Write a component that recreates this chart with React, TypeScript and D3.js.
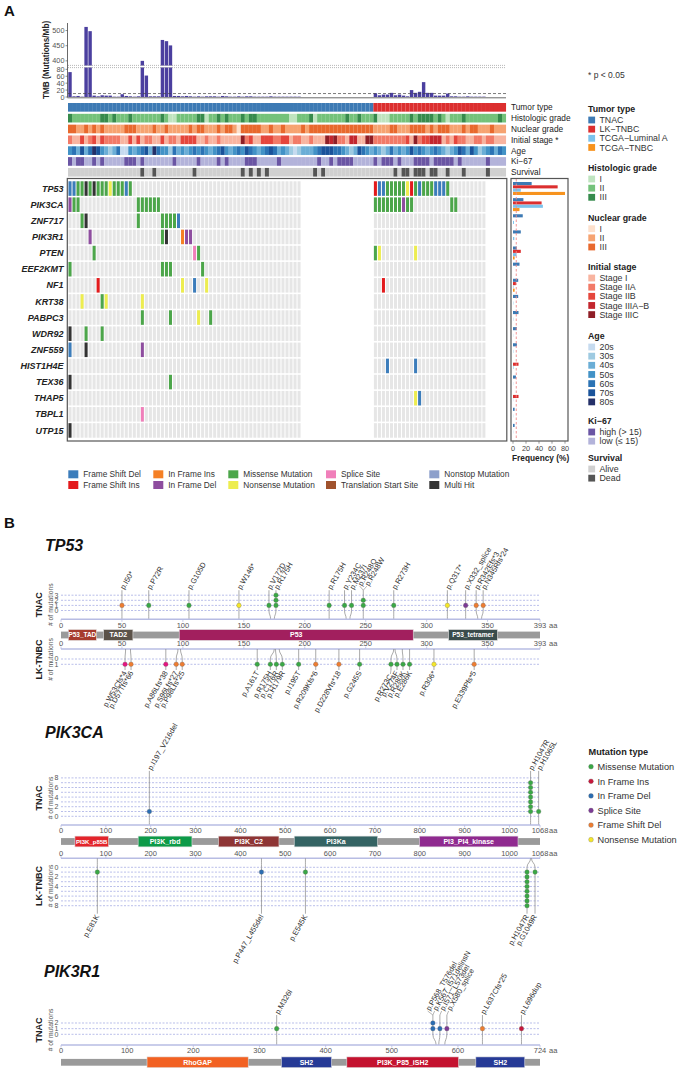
import * as d3 from "d3";
import { useEffect } from "react";

const FONT = "'Liberation Sans', Arial, Helvetica, sans-serif";

/* ---------------- A: oncoprint data ---------------- */
const N_TNAC = 76;
const N_LK = 33;
const N_TNAC_MUT = 58;
const N_LK_MUT = 28;

const GENES = ["TP53", "PIK3CA", "ZNF717", "PIK3R1", "PTEN", "EEF2KMT", "NF1", "KRT38", "PABPC3", "WDR92", "ZNF559", "HIST1H4E", "TEX36", "THAP5", "TBPL1", "UTP15"];

// "<mutated sample index><variant code>" per gene
const TNAC_MUTS = [
  "0D 1D 2M 3M 4H 5M 6H 7M 8M 9M 10N 11M 12M 13M 14D 15M",
  "0d 1M 2M 17M 18M 19M 20M 21M 22M",
  "3M 4H 17M 23M 24M 25M 26M 27D",
  "5d 23M 24H 28n 29d 30d",
  "6M 31S 32M",
  "0M 23M 24M 25M 33M",
  "7I 28N 31D 34N",
  "3N 8M 9N 18N",
  "18M 25M 32N 35M",
  "0H 4M 8M",
  "0D 4H 18d",
  "",
  "0H 25M",
  "",
  "18S",
  "0H",
];
const LK_MUTS = [
  "0I 1D 2D 3M 4M 5M 6M 7M 8N 9I 10M 11D 12M 13M 14M 15D 16D 17D 18M",
  "0M 1M 2M 3M 4M 5M 6M 7d 8M 9M 19M 20M",
  "", "",
  "0M 1N 10N",
  "",
  "2I",
  "", "", "", "",
  "3D 10D",
  "",
  "10N 11D",
  "", "",
];

const TMB_TNAC = [72, 2, 3, 1, 512, 498, 4, 2, 5, 4, 4, 1, 1, 8, 3, 2, 1, 2, 400, 62, 2, 2, 2, 469, 465, 451, 3, 3, 2, 3, 2, 1, 2, 1, 2, 2, 2, 1, 3, 2, 1, 1, 2, 1, 2, 2, 1, 1, 1, 1, 2, 1, 1, 1, 1, 1, 1, 1];
const TMB_LK = [11, 5, 7, 7, 12, 5, 7, 4, 2, 20, 12, 15, 43, 12, 12, 4, 4, 4, 10, 2, 2, 1, 1, 2, 1, 1, 1, 1];

const FREQ_TNAC = [28.7, 16, 15, 12, 6, 10, 8, 8, 8.5, 6, 6, 0, 4.5, 0, 2.5, 2.5];
const FREQ_LK = [68.7, 44, 0, 0, 12, 0, 4.5, 0, 0, 0, 0, 8.5, 0, 8.5, 0, 0];
const FREQ_LUMA = [12, 46, 1.5, 2, 5.5, 0, 0.8, 0.5, 0.5, 0.3, 0.5, 0.8, 0.3, 0.3, 0.3, 0.3];
const FREQ_TNBC = [80, 10, 0, 0, 2.5, 0, 2.5, 0, 0, 0, 0, 0, 0, 0, 0, 0];
const FREQ_TICKS = [0, 20, 40, 60, 80];

// clinical annotation: sample indices that differ from the most common class
const HIST_III = [0, 8, 9, 11, 15, 23, 32, 33, 37, 39, 43, 45, 46, 60, 69, 72, 76, 85, 87, 88, 89, 90, 92, 98, 107];
const HIST_I = [25, 26, 34, 55, 56, 61, 77, 78, 79, 94];
const NUC_III = [0, 1, 4, 6, 8, 14, 15, 16, 21, 24, 30, 32, 33, 37, 39, 40, 43, 44, 45, 46, 47, 50, 53, 58, 60, 61, 62, 63, 64, 65, 66, 67, 68, 69, 70, 71, 72, 73, 74, 75, 80, 81, 85, 86, 87, 88, 90, 92, 93, 94, 98, 100, 101, 105];
const NUC_I = [42];
const STAGE_IIA = [0, 5, 9, 10, 11, 12, 19, 20, 25, 26, 34, 37, 44, 51, 52, 56, 57, 60, 67, 68, 76, 77, 78, 79, 80, 81, 82, 83, 87, 94, 97, 98, 101, 102, 104, 105];
const STAGE_IIB = [3, 6, 8, 15, 17, 23, 28, 29, 30, 31, 45, 48, 49, 50, 53, 54, 84, 88, 89, 96];
const STAGE_IIIAB = [65, 70, 71, 90, 91, 92];
const STAGE_IIIC = [43, 64, 66, 74, 75, 86];
const AGE_20 = [13, 14, 56];
const AGE_30 = [10, 25, 55, 57, 70, 78, 94, 102];
const AGE_40 = [2, 4, 9, 11, 16, 20, 27, 29, 35, 40, 47, 52, 54, 58, 59, 60, 69, 71, 75, 77, 79, 81, 83, 89, 93, 95, 99, 103, 106];
const AGE_60 = [1, 5, 12, 18, 22, 26, 31, 33, 37, 42, 45, 49, 51, 62, 66, 67, 73, 80, 87, 91, 98, 105, 107];
const AGE_70 = [3, 7, 19, 38, 44, 50, 63, 64, 65, 72, 85, 97, 100];
const AGE_80 = [6, 21];
const KI_HIGH = [0, 2, 3, 6, 8, 14, 15, 16, 18, 26, 32, 37, 39, 44, 45, 46, 52, 62, 65, 67, 68, 69, 70, 76, 78, 79, 80, 82, 86, 87, 88, 89, 91, 92, 93, 94, 95, 97, 104];
const DEAD = [18, 21, 31, 43, 45, 47, 49, 61, 63, 81, 83, 84, 86, 87, 88, 90, 91, 94, 98, 104];

const TRACKS = ["Tumor type", "Histologic grade", "Nuclear grade", "Initial stage *", "Age", "Ki\u221267", "Survival"];

const PAL_TUMOR: Record<string, string> = { TNAC: "#3d7ab4", "LK\u2212TNBC": "#dc2f2f", "TCGA\u2212Luminal A": "#7cc3ec", "TCGA\u2212TNBC": "#f7931e" };
const PAL_HIST: Record<string, string> = { I: "#bfe4bf", II: "#74c27a", III: "#368b4c" };
const PAL_NUC: Record<string, string> = { I: "#fde0cc", II: "#f6a371", III: "#e8692d" };
const PAL_STAGE: Record<string, string> = { "Stage I": "#f8b4a0", "Stage IIA": "#f27a67", "Stage IIB": "#e5463c", "Stage IIIA\u2212B": "#c3262e", "Stage IIIC": "#8f1e26" };
const PAL_AGE: Record<string, string> = { "20s": "#c6dbef", "30s": "#9ecae1", "40s": "#6baed6", "50s": "#4292c6", "60s": "#2b73b4", "70s": "#1a539a", "80s": "#243068" };
const PAL_KI: Record<string, string> = { "high (> 15)": "#6a55a4", "low (\u2264  15)": "#b3b3da" };
const PAL_SURV: Record<string, string> = { Alive: "#d0d0d0", Dead: "#555555" };

const VARIANT_NAME: Record<string, string> = {
  D: "Frame Shift Del", I: "Frame Shift Ins", n: "In Frame Ins", d: "In Frame Del", M: "Missense Mutation",
  N: "Nonsense Mutation", S: "Splice Site", T: "Translation Start Site", O: "Nonstop Mutation", H: "Multi Hit",
};
const VARIANT_COLOR: Record<string, string> = {
  D: "#3c7dbb", I: "#e31a1c", n: "#f58025", d: "#8e4d9f", M: "#4ca64a",
  N: "#eded4f", S: "#f07fba", T: "#a0522d", O: "#8c9fcb", H: "#333333",
};
const LEGEND_ROWS = [["D", "n", "M", "S", "O"], ["I", "d", "N", "T", "H"]];

/* ---------------- B: lollipop data ---------------- */
type LMut = { pos: number; label: string; type: string; count: number };
const m = (pos: number, label: string, type: string, count = 1): LMut => ({ pos, label, type, count });

const TP53_LEN = 393;
const TP53_TNAC = [
  m(50, "p.I50*", "fsdel"), m(72, "p.P72R", "mis"), m(105, "p.G105D", "mis"), m(146, "p.W146*", "nons"),
  m(172, "p.V172D", "mis"), m(175, "p.R175H", "mis", 3), m(220, "p.R175H", "mis"), m(234, "p.Y234C", "mis"),
  m(237, "p.M237I", "mis"), m(248, "p.R248Q", "mis"), m(248, "p.R248W", "mis"), m(273, "p.R273H", "mis"),
  m(317, "p.Q317*", "nons"), m(332, "p.X332_splice", "splice"), m(342, "p.R342Efs*3", "fsdel"), m(345, "p.N345Rfs*24", "fsdel"),
];
const TP53_LK = [
  m(53, "p.W53Cfs*4", "fsins"), m(57, "p.D57Tfs*66", "fsdel"), m(86, "p.A86Lfs*38", "fsins"), m(96, "p.S96Lfs*27", "fsdel"),
  m(98, "p.P98Lfs*25", "fsdel"), m(161, "p.A161T", "mis"), m(175, "p.R175H", "mis"), m(176, "p.C176R", "mis"),
  m(179, "p.H179R", "mis"), m(195, "p.I195T", "mis"), m(209, "p.R209Kfs*6", "fsdel"), m(228, "p.D228Vfs*18", "fsdel"),
  m(245, "p.G245S", "mis"), m(273, "p.R273C", "mis"), m(274, "p.V274F", "mis"), m(280, "p.R280K", "mis"),
  m(286, "p.E286K", "mis"), m(306, "p.R306*", "nons"), m(339, "p.E339Pfs*5", "fsdel"),
];
const TP53_DOMAINS: [string, number, number][] = [["P53_TAD", 6, 29], ["TAD2", 35, 59], ["P53", 97, 289], ["P53_tetramer", 318, 358]];

const PIK3CA_LEN = 1068;
const PIK3CA_TNAC = [m(197, "p.I197_V216del", "ifdel"), m(1047, "p.H1047R", "mis", 7), m(1065, "p.H1065L", "mis")];
const PIK3CA_LK = [m(81, "p.E81K", "mis"), m(447, "p.P447_L455del", "ifdel"), m(545, "p.E545K", "mis"), m(1047, "p.H1047R", "mis", 8), m(1049, "p.G1049R", "mis")];
const PIK3CA_DOMAINS: [string, number, number][] = [["PI3K_p85B", 31, 106], ["PI3K_rbd", 172, 292], ["PI3K_C2", 351, 486], ["PI3Ka", 520, 706], ["PI3_PI4_kinase", 799, 1019]];

const PIK3R1_LEN = 724;
const PIK3R1_TNAC = [
  m(326, "p.M326I", "mis"), m(567, "p.P568_T576del", "ifdel"), m(567, "p.K567_I571delinsN", "ifdel"),
  m(571, "p.I571_L573del", "ifdel"), m(580, "p.X580_splice", "splice"), m(637, "p.L637Cfs*25", "fsdel"), m(696, "p.L696dup", "ifins"),
];
const PIK3R1_DOMAINS: [string, number, number][] = [["RhoGAP", 130, 283], ["SH2", 333, 409], ["PI3K_P85_iSH2", 432, 601], ["SH2", 627, 701]];

const DOMAIN_COLOR: Record<string, string> = {
  P53_TAD: "#a63a2c", TAD2: "#5b5249", P53: "#a21f5e", P53_tetramer: "#3a4c4c",
  PI3K_p85B: "#e3242b", PI3K_rbd: "#0d9a48", PI3K_C2: "#8e3535", PI3Ka: "#346363", PI3_PI4_kinase: "#8f2a8f",
  RhoGAP: "#f26122", SH2: "#263a96", PI3K_P85_iSH2: "#c4122f",
};
const LOLLI_COLOR: Record<string, string> = {
  mis: "#3aa845", ifins: "#c8173b", ifdel: "#2a6db3", splice: "#7d3a96", fsdel: "#ee7d31", nons: "#f5e72a", fsins: "#e6157f",
};
const LOLLI_LEGEND: [string, string][] = [["mis", "Missense Mutation"], ["ifins", "In Frame Ins"], ["ifdel", "In Frame Del"], ["splice", "Splice Site"], ["fsdel", "Frame Shift Del"], ["nons", "Nonsense Mutation"]];

/* ---------------- helpers ---------------- */
function fillTrack(n: number, base: string, lists: [string, number[]][]) {
  const v = new Array(n).fill(base);
  lists.forEach(([code, idx]) => idx.forEach((i) => { if (i < n) v[i] = code; }));
  return v as string[];
}

function parseMuts(s: string) {
  return s.split(" ").filter(Boolean).map((t) => [parseInt(t, 10), t.slice(-1)] as [number, string]);
}

// keep labels/stems at least `gap` apart, staying as close as possible to their targets
function repel(targets: number[], gap: number): number[] {
  const clusters: { idx: number[]; sum: number }[] = [];
  targets.forEach((t, i) => {
    let cur = { idx: [i], sum: t };
    while (clusters.length) {
      const prev = clusters[clusters.length - 1];
      const ps = prev.sum / prev.idx.length;
      const cs = cur.sum / cur.idx.length;
      if (ps + prev.idx.length * gap > cs) {
        clusters.pop();
        cur = { idx: prev.idx.concat(cur.idx), sum: prev.sum + cur.sum - cur.idx.length * prev.idx.length * gap };
      } else break;
    }
    clusters.push(cur);
  });
  const out: number[] = [];
  clusters.forEach((c) => {
    const s = c.sum / c.idx.length;
    c.idx.forEach((i, k) => (out[i] = s + k * gap));
  });
  return out;
}

type TrackOpt = { axisY: number; zeroY: number; step: number; maxC: number; every: number; dir: number; stemLen: number; stemGap: number; labelGap: number; name: string };

function lolliTrack(key: string, muts: LMut[], xs: d3.ScaleLinear<number, number>, o: TrackOpt) {
  const yC = (c: number) => o.zeroY + o.dir * o.step * c;
  const stemEnd = yC(o.maxC) + o.dir * o.stemLen;
  const mid = (o.axisY + o.zeroY) / 2;
  const sites = Array.from(new Set(muts.map((d) => d.pos))).sort((a, b) => a - b);
  const groups = sites.map((p) => muts.filter((d) => d.pos === p));
  const gx = repel(sites.map((p) => xs(p)), o.stemGap);
  const labs = groups.flatMap((g, i) => g.map((mu) => ({ mu, gx: gx[i] })));
  const lx = repel(labs.map((l) => l.gx), o.labelGap);
  const [x0, x1] = xs.range();
  const nameY = (o.axisY + stemEnd) / 2;
  return (
    <g key={key}>
      <text transform={`translate(38.5,${nameY}) rotate(-90)`} textAnchor="middle" dy="0.35em" fontSize={9} fontWeight="bold" fill="#222">{o.name}</text>
      <text transform={`translate(50.5,${nameY}) rotate(-90)`} textAnchor="middle" dy="0.35em" fontSize={6.8} fill="#555"># of mutations</text>
      {d3.range(o.maxC + 1).map((c) => (
        <line key={`g${c}`} x1={x0} x2={x1} y1={yC(c)} y2={yC(c)} stroke="#8c93dc" strokeWidth={0.6} strokeDasharray="2,1.5" />
      ))}
      {d3.range(0, o.maxC + 1, o.every).map((c) => (
        <text key={`t${c}`} x={58.5} y={yC(c)} dy="0.35em" textAnchor="end" fontSize={7} fill="#555">{c}</text>
      ))}
      {groups.map((g, i) => {
        const tx = xs(sites[i]);
        return <path key={`s${i}`} d={`M${tx},${o.axisY}C${tx},${mid} ${gx[i]},${mid} ${gx[i]},${o.zeroY}L${gx[i]},${stemEnd}`} fill="none" stroke="#858585" strokeWidth={0.7} />;
      })}
      {groups.map((g, i) => {
        let k = 0;
        return g.flatMap((mu, j) => d3.range(mu.count).map((r) => {
          k += 1;
          return <circle key={`d${i}-${j}-${r}`} cx={gx[i]} cy={yC(k)} r={2.3} fill={LOLLI_COLOR[mu.type]} stroke="#666" strokeWidth={0.3} />;
        }));
      })}
      {labs.map((l, i) => {
        const moved = Math.abs(lx[i] - l.gx) > 0.6;
        const ly = stemEnd + o.dir * (moved ? 5 : 1.5);
        return (
          <g key={`l${i}`}>
            {moved && <line x1={l.gx} y1={stemEnd} x2={lx[i]} y2={stemEnd + o.dir * 4} stroke="#858585" strokeWidth={0.6} />}
            <text transform={`translate(${lx[i]},${ly}) rotate(-60)`} dy="0.35em" textAnchor={o.dir < 0 ? "start" : "end"} fontSize={7.5} fill="#333">{l.mu.label}</text>
          </g>
        );
      })}
    </g>
  );
}

function proteinAxis(key: string, xs: d3.ScaleLinear<number, number>, len: number, axisY: number, below: boolean) {
  const [x0, x1] = xs.range();
  const ticks = xs.ticks(len > 800 ? 11 : 8).filter((t) => xs(len) - xs(t) > 22);
  const ly = below ? axisY + 8.3 : axisY - 2.6;
  return (
    <g key={key}>
      <line x1={x0} x2={x1} y1={axisY} y2={axisY} stroke="#b7bce3" strokeWidth={1.4} />
      {ticks.concat([len]).map((t) => (
        <line key={`k${t}`} x1={xs(t)} x2={xs(t)} y1={axisY} y2={axisY + (below ? 2.5 : -2.5)} stroke="#b7bce3" strokeWidth={0.8} />
      ))}
      {ticks.map((t) => (
        <text key={`t${t}`} x={xs(t)} y={ly} textAnchor="middle" fontSize={7.5} fill="#555">{t}</text>
      ))}
      <text x={xs(len)} y={ly} textAnchor="middle" fontSize={7.5} fill="#555">{len}</text>
      <text x={xs(len) + 9} y={ly} fontSize={7.5} fill="#555">aa</text>
    </g>
  );
}

function domainBar(key: string, xs: d3.ScaleLinear<number, number>, cy: number, domains: [string, number, number][]) {
  const [x0, x1] = xs.range();
  return (
    <g key={key}>
      <rect x={x0} width={x1 - x0} y={cy - 3.4} height={6.8} fill="#9a9a9a" />
      {domains.map(([name, s, e], i) => {
        const w = xs(e) - xs(s);
        const fs = Math.min(7, w / (name.length * 0.62));
        return (
          <g key={i}>
            <rect x={xs(s)} width={w} y={cy - 5.4} height={10.8} fill={DOMAIN_COLOR[name]} stroke="#e0e0e0" strokeWidth={0.6} />
            <text x={xs(s) + w / 2} y={cy} dy="0.35em" textAnchor="middle" fontSize={fs} fontWeight="bold" fill="#fff">{name}</text>
          </g>
        );
      })}
    </g>
  );
}

/* ---------------- chart ---------------- */
export default function App() {
  useEffect(() => {
    document.body.style.margin = "0";
  }, []);

  const N = N_TNAC + N_LK;
  const xCol = d3.scaleBand<number>().domain(d3.range(N)).range([68, 506]);
  const cw = xCol.bandwidth();
  const mutCols = [...d3.range(N_TNAC_MUT), ...d3.range(N_LK_MUT).map((j) => N_TNAC + j)];
  const tmb = [...TMB_TNAC, ...TMB_LK];

  // TMB broken axis
  const yLow = d3.scaleLinear().domain([0, 85]).range([97, 67.6]);
  const yHigh = d3.scaleLinear().domain([385, 520]).range([65.4, 24.5]);
  const tmbY = (v: number) => (v <= 85 ? yLow(v) : yHigh(v));

  // annotation tracks
  const trackVals: string[][] = [
    d3.range(N).map((c) => (c < N_TNAC ? "TNAC" : "LK\u2212TNBC")),
    fillTrack(N, "II", [["III", HIST_III], ["I", HIST_I]]),
    fillTrack(N, "II", [["III", NUC_III], ["I", NUC_I]]),
    fillTrack(N, "Stage I", [["Stage IIA", STAGE_IIA], ["Stage IIB", STAGE_IIB], ["Stage IIIA\u2212B", STAGE_IIIAB], ["Stage IIIC", STAGE_IIIC]]),
    fillTrack(N, "50s", [["20s", AGE_20], ["30s", AGE_30], ["40s", AGE_40], ["60s", AGE_60], ["70s", AGE_70], ["80s", AGE_80]]),
    fillTrack(N, "low (\u2264  15)", [["high (> 15)", KI_HIGH]]),
    fillTrack(N, "Alive", [["Dead", DEAD]]),
  ];
  const trackPals = [PAL_TUMOR, PAL_HIST, PAL_NUC, PAL_STAGE, PAL_AGE, PAL_KI, PAL_SURV];
  const yTrack = d3.scaleBand<string>().domain(TRACKS).range([103, 176.6]).paddingInner(0.2);

  // oncoprint
  const yRow = d3.scaleBand<string>().domain(GENES).range([180.5, 438.5]);
  const rh = yRow.bandwidth();
  const cells: { g: string; c: number; v: string }[] = [];
  GENES.forEach((g, gi) => {
    parseMuts(TNAC_MUTS[gi]).forEach(([k, v]) => cells.push({ g, c: k, v }));
    parseMuts(LK_MUTS[gi]).forEach(([j, v]) => cells.push({ g, c: N_TNAC + j, v }));
  });

  // frequency panel
  const xF = d3.scaleLinear().domain([0, 80]).range([513, 565]);
  const freqSeries: [number[], string][] = [
    [FREQ_TNAC, PAL_TUMOR.TNAC], [FREQ_LK, PAL_TUMOR["LK\u2212TNBC"]],
    [FREQ_LUMA, PAL_TUMOR["TCGA\u2212Luminal A"]], [FREQ_TNBC, PAL_TUMOR["TCGA\u2212TNBC"]],
  ];

  // right legend
  const legendTitleY = [109, 168, 217.7, 267, 336, 421, 458];
  const legendTitles = ["Tumor type", "Histologic grade", "Nuclear grade", "Initial stage", "Age", "Ki\u221267", "Survival"];
  const legendX = [68.3, 153.3, 228.3, 326, 429.3];

  // lollipop scales
  const xTP53 = d3.scaleLinear().domain([0, TP53_LEN]).range([61, 540]);
  const xPIK3CA = d3.scaleLinear().domain([0, PIK3CA_LEN]).range([61, 540]);
  const xPIK3R1 = d3.scaleLinear().domain([0, PIK3R1_LEN]).range([61, 540]);

  return (
    <svg width={685} height={1068} style={{ display: "block", position: "absolute", left: 0, top: 0 }} fontFamily={FONT}>
      <rect width={685} height={1068} fill="#fff" />
      <text x={4} y={16} fontSize={15} fontWeight="bold" fill="#111">A</text>

      {/* TMB */}
      <g>
        {mutCols.map((c, i) => (
          <rect key={i} x={(xCol(c) as number) + 0.3} width={cw - 0.6} y={tmbY(tmb[i])} height={97 - tmbY(tmb[i])} fill="#4b3f9f" />
        ))}
        <rect x={68} width={438} y={65.6} height={1.8} fill="#fff" />
        <line x1={68} x2={506} y1={65.4} y2={65.4} stroke="#999" strokeWidth={0.7} strokeDasharray="1,1" />
        <line x1={68} x2={506} y1={67.6} y2={67.6} stroke="#999" strokeWidth={0.7} strokeDasharray="1,1" />
        <line x1={68} x2={506} y1={yLow(10)} y2={yLow(10)} stroke="#444" strokeWidth={0.7} strokeDasharray="3,2" />
        <line x1={67.5} x2={67.5} y1={23} y2={97.5} stroke="#444" strokeWidth={0.8} />
        <line x1={67.5} x2={506} y1={97.8} y2={97.8} stroke="#444" strokeWidth={0.8} />
        {[0, 20, 40, 60, 80].map((t) => (
          <g key={`lo${t}`}>
            <line x1={65.5} x2={67.5} y1={yLow(t)} y2={yLow(t)} stroke="#444" strokeWidth={0.6} />
            <text x={64.5} y={yLow(t)} dy="0.35em" textAnchor="end" fontSize={7.3} fill="#555">{t}</text>
          </g>
        ))}
        {[400, 450, 500].map((t) => (
          <g key={`hi${t}`}>
            <line x1={65.5} x2={67.5} y1={yHigh(t)} y2={yHigh(t)} stroke="#444" strokeWidth={0.6} />
            <text x={64.5} y={yHigh(t)} dy="0.35em" textAnchor="end" fontSize={7.3} fill="#555">{t}</text>
          </g>
        ))}
        <text transform="translate(46.5,60) rotate(-90)" textAnchor="middle" dy="0.35em" fontSize={8.2} fontWeight="bold" fill="#222">TMB (Mutations/Mb)</text>
      </g>

      {/* annotation tracks */}
      {TRACKS.map((t, ti) => (
        <g key={t}>
          {trackVals[ti].map((v, c) => (
            <rect key={c} x={xCol(c)} width={cw + 0.05} y={yTrack(t)} height={yTrack.bandwidth()} fill={trackPals[ti][v]} />
          ))}
          <text x={511} y={(yTrack(t) as number) + yTrack.bandwidth() / 2} dy="0.35em" fontSize={8.3} fill="#222">{t}</text>
        </g>
      ))}

      {/* oncoprint */}
      <g>
        {GENES.map((g) => (
          <g key={g}>
            {mutCols.map((c) => (
              <rect key={c} x={(xCol(c) as number) + 0.5} width={cw - 1} y={(yRow(g) as number) + 0.8} height={rh - 1.6} fill="#e6e6e6" />
            ))}
            <text x={63.5} y={(yRow(g) as number) + rh / 2} dy="0.35em" textAnchor="end" fontSize={9} fontWeight="bold" fontStyle="italic" fill="#222">{g}</text>
          </g>
        ))}
        {cells.map((d, i) => (
          <rect key={i} x={(xCol(d.c) as number) + 0.5} width={cw - 1} y={(yRow(d.g) as number) + 0.8} height={rh - 1.6} fill={VARIANT_COLOR[d.v]} />
        ))}
        <rect x={67.3} y={178.5} width={439.5} height={262.5} fill="none" stroke="#555" strokeWidth={1.2} />
      </g>

      {/* frequency */}
      <g>
        {GENES.map((g, gi) => (
          <g key={g}>
            {freqSeries.map(([vals, col], si) => vals[gi] > 0 && (
              <rect key={si} x={xF(0)} width={xF(vals[gi]) - xF(0)} y={(yRow(g) as number) + 1.5 + si * 3.3} height={3.1} fill={col} />
            ))}
          </g>
        ))}
        <line x1={xF(5)} x2={xF(5)} y1={179} y2={440.5} stroke="#f08a8a" strokeWidth={0.9} strokeDasharray="2.5,2" />
        <rect x={511} y={178.5} width={57} height={262.5} fill="none" stroke="#555" strokeWidth={1.2} />
        {FREQ_TICKS.map((t) => (
          <g key={t}>
            <line x1={xF(t)} x2={xF(t)} y1={441.2} y2={443.7} stroke="#555" strokeWidth={0.6} />
            <text x={xF(t)} y={450.5} textAnchor="middle" fontSize={7.3} fill="#444">{t}</text>
          </g>
        ))}
        <text x={512} y={461} fontSize={8.3} fontWeight="bold" fill="#222">Frequency (%)</text>
      </g>

      {/* right legend */}
      <text x={588} y={75} dy="0.35em" fontSize={8.5} fill="#333">* p &lt; 0.05</text>
      {legendTitles.map((title, li) => {
        const pal = trackPals[li] === PAL_TUMOR ? PAL_TUMOR : trackPals[li];
        const keys = Object.keys(pal);
        return (
          <g key={title}>
            <text x={588} y={legendTitleY[li]} dy="0.35em" fontSize={8.8} fontWeight="bold" fill="#222">{title}</text>
            {keys.map((k, ki) => {
              const y = legendTitleY[li] + 11 + ki * 9.15;
              return (
                <g key={k}>
                  <rect x={588.3} y={y - 3.4} width={6.8} height={6.8} fill={pal[k]} />
                  <text x={599.5} y={y} dy="0.35em" fontSize={8.8} fill="#333">{k}</text>
                </g>
              );
            })}
          </g>
        );
      })}

      {/* variant legend */}
      {LEGEND_ROWS.map((row, ri) => row.map((v, ci) => {
        const y = 474.3 + ri * 10.7;
        return (
          <g key={v}>
            <rect x={legendX[ci]} y={y - 4} width={10} height={8} fill={VARIANT_COLOR[v]} />
            <text x={legendX[ci] + 15} y={y} dy="0.35em" fontSize={8.3} fill="#333">{VARIANT_NAME[v]}</text>
          </g>
        );
      }))}

      {/* ---------------- B ---------------- */}
      <text x={4} y={528} fontSize={15} fontWeight="bold" fill="#111">B</text>

      {/* TP53 */}
      <text x={45} y={551} fontSize={16} fontWeight="bold" fontStyle="italic" fill="#111">TP53</text>
      {lolliTrack("tp53a", TP53_TNAC, xTP53, { axisY: 619.3, zeroY: 610.5, step: 5.1, maxC: 3, every: 1, dir: -1, stemLen: 5, stemGap: 7, labelGap: 7, name: "TNAC" })}
      {proteinAxis("tp53ax1", xTP53, TP53_LEN, 619.3, true)}
      {domainBar("tp53dom", xTP53, 635, TP53_DOMAINS)}
      {proteinAxis("tp53ax2", xTP53, TP53_LEN, 649, false)}
      {lolliTrack("tp53b", TP53_LK, xTP53, { axisY: 649, zeroY: 659, step: 5.3, maxC: 1, every: 1, dir: 1, stemLen: 5.7, stemGap: 6, labelGap: 6.5, name: "LK-TNBC" })}

      {/* PIK3CA */}
      <text x={45} y={737.5} fontSize={16} fontWeight="bold" fontStyle="italic" fill="#111">PIK3CA</text>
      {lolliTrack("pik3caa", PIK3CA_TNAC, xPIK3CA, { axisY: 825, zeroY: 816.3, step: 4.8, maxC: 8, every: 2, dir: -1, stemLen: 7, stemGap: 8, labelGap: 8, name: "TNAC" })}
      {proteinAxis("pik3caax1", xPIK3CA, PIK3CA_LEN, 825, true)}
      {domainBar("pik3cadom", xPIK3CA, 841.5, PIK3CA_DOMAINS)}
      {proteinAxis("pik3caax2", xPIK3CA, PIK3CA_LEN, 858.3, false)}
      {lolliTrack("pik3cab", PIK3CA_LK, xPIK3CA, { axisY: 858.3, zeroY: 867.3, step: 4.8, maxC: 8, every: 2, dir: 1, stemLen: 8, stemGap: 8, labelGap: 8, name: "LK-TNBC" })}

      {/* mutation type legend */}
      <text x={588.5} y={752} dy="0.35em" fontSize={9.2} fontWeight="bold" fill="#222">Mutation type</text>
      {LOLLI_LEGEND.map(([k, name], i) => (
        <g key={k}>
          <circle cx={591} cy={766.7 + i * 14.6} r={2.4} fill={LOLLI_COLOR[k]} stroke="#666" strokeWidth={0.3} />
          <text x={597.5} y={766.7 + i * 14.6} dy="0.35em" fontSize={9.2} fill="#333">{name}</text>
        </g>
      ))}

      {/* PIK3R1 */}
      <text x={44} y={977} fontSize={16} fontWeight="bold" fontStyle="italic" fill="#111">PIK3R1</text>
      {lolliTrack("pik3r1a", PIK3R1_TNAC, xPIK3R1, { axisY: 1045, zeroY: 1034.3, step: 5.65, maxC: 2, every: 1, dir: -1, stemLen: 8, stemGap: 7, labelGap: 7, name: "TNAC" })}
      {proteinAxis("pik3r1ax", xPIK3R1, PIK3R1_LEN, 1045, true)}
      {domainBar("pik3r1dom", xPIK3R1, 1062.3, PIK3R1_DOMAINS)}
    </svg>
  );
}
